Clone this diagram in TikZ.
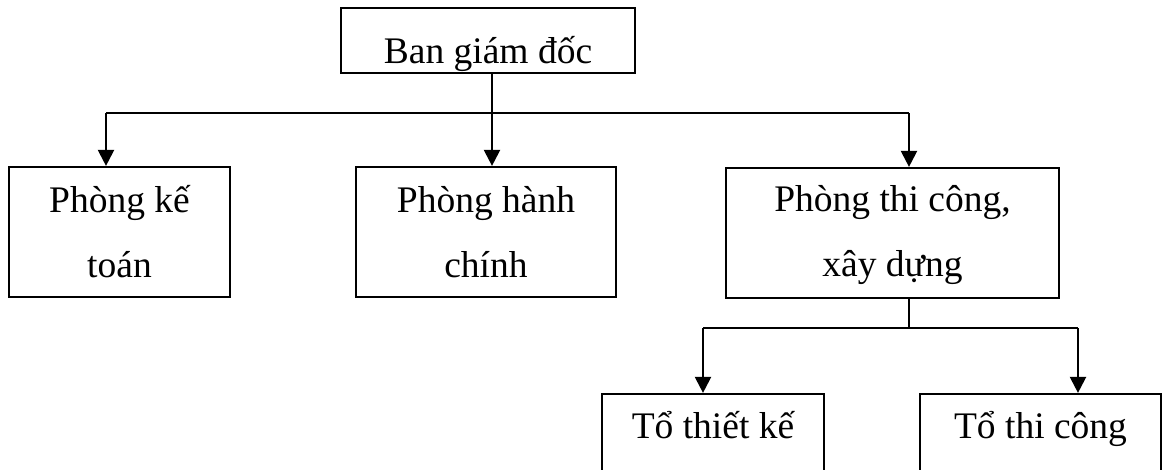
\documentclass[tikz,border=0pt]{standalone}
\usepackage{fontspec}
\setmainfont{Liberation Serif}
\usetikzlibrary{arrows.meta}
\begin{document}
\begin{tikzpicture}[x=1pt,y=-1pt,
  box/.style={draw, line width=2.2pt, inner sep=0pt},
  txt/.style={inner sep=0pt, align=center, anchor=base,
    font=\fontsize{37.5}{65}\selectfont},
  link/.style={line width=2.2pt},
  arr/.style={line width=2.2pt, -{Triangle[length=16pt,width=16pt]}}]
\useasboundingbox (0,0) rectangle (1165,469);
\clip (0,0) rectangle (1165,469);

% boxes
\node[box, minimum width=294pt, minimum height=65pt] (top) at (488,40.5) {};
\node[box, minimum width=221pt, minimum height=130pt] (acc) at (119.5,232) {};
\node[box, minimum width=260pt, minimum height=130pt] (adm) at (486,232) {};
\node[box, minimum width=333pt, minimum height=130pt] (con) at (892.5,233) {};
\node[box, minimum width=222pt, minimum height=100pt] (des) at (713,444) {};
\node[box, minimum width=241pt, minimum height=100pt] (bld) at (1040.5,444) {};

% labels (base anchor sits on the last line)
\node[txt] (ttop) at (488,63) {Ban giám đốc};
\node[txt] (tacc) at (119.5,277) {Phòng kế\\toán};
\node[txt] (tadm) at (486,277) {Phòng hành\\chính};
\node[txt] (tcon) at (892.5,276) {Phòng thi công,\\xây dựng};
\node[txt] (tdes) at (713,438) {Tổ thiết kế};
\node[txt] (tbld) at (1040.5,438) {Tổ thi công};

% junctions
\coordinate (j1) at (492,113);
\coordinate (j2) at (909,328);

% upper level
\draw[link] ([xshift=4pt]top.south) -- (j1);
\draw[link] ([xshift=-13.5pt]acc.north |- j1) -- ([xshift=16.5pt]con.north |- j1);
\draw[arr] ([xshift=-13.5pt]acc.north |- j1) -- ([xshift=-13.5pt]acc.north);
\draw[arr] (j1) -- ([xshift=6pt]adm.north);
\draw[arr] ([xshift=16.5pt]con.north |- j1) -- ([xshift=16.5pt]con.north);

% lower level
\draw[link] ([xshift=16.5pt]con.south) -- (j2);
\draw[link] ([xshift=-10pt]des.north |- j2) -- ([xshift=37.5pt]bld.north |- j2);
\draw[arr] ([xshift=-10pt]des.north |- j2) -- ([xshift=-10pt]des.north);
\draw[arr] ([xshift=37.5pt]bld.north |- j2) -- ([xshift=37.5pt]bld.north);
\end{tikzpicture}
\end{document}
